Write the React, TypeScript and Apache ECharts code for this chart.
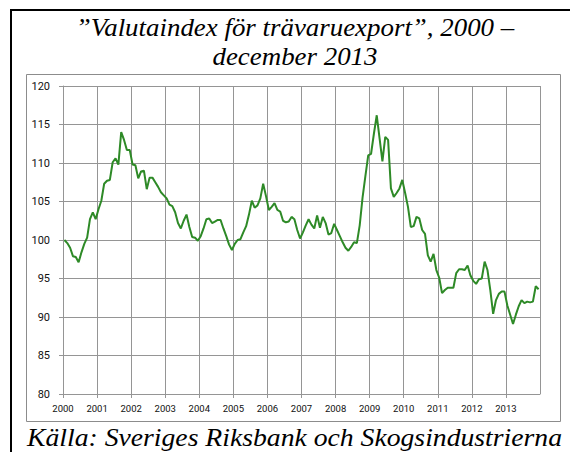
import React, { useEffect, useRef } from "react";
import * as echarts from "echarts";

const years = [2000, 2001, 2002, 2003, 2004, 2005, 2006, 2007, 2008, 2009, 2010, 2011, 2012, 2013];
const v2000 = [100.0, 99.6, 99.0, 97.9, 97.8, 97.1, 98.4, 99.5, 100.3, 102.7, 103.6, 102.7];
const v2001 = [104.0, 105.1, 107.3, 107.7, 107.8, 110.1, 110.6, 109.8, 114.0, 113.0, 111.7, 111.7];
const v2002 = [109.8, 109.7, 108.0, 108.9, 109.0, 106.6, 108.1, 108.1, 107.5, 106.9, 106.2, 105.8];
const v2003 = [105.4, 104.6, 104.4, 103.6, 102.2, 101.5, 102.5, 103.3, 101.7, 100.4, 100.3, 99.9];
const v2004 = [100.5, 101.5, 102.7, 102.8, 102.2, 102.4, 102.6, 102.6, 101.5, 100.5, 99.4, 98.7];
const v2005 = [99.5, 100.0, 100.1, 101.0, 101.8, 103.3, 105.1, 104.2, 104.5, 105.4, 107.3, 105.7];
const v2006 = [103.9, 104.3, 104.8, 103.9, 103.7, 102.5, 102.3, 102.4, 103.0, 102.7, 101.3, 100.2];
const v2007 = [101.0, 101.9, 102.7, 102.0, 101.5, 103.2, 101.6, 103.0, 102.2, 100.7, 100.9, 102.1];
const v2008 = [101.3, 100.5, 99.7, 99.0, 98.6, 99.1, 99.7, 99.6, 101.9, 105.5, 108.3, 111.0];
const v2009 = [111.2, 113.8, 116.2, 113.2, 110.2, 113.4, 113.0, 106.7, 105.6, 106.1, 106.7, 107.8];
const v2010 = [106.1, 104.3, 101.7, 101.8, 103.0, 102.8, 101.3, 100.8, 98.0, 97.2, 98.2, 96.1];
const v2011 = [95.1, 93.1, 93.5, 93.8, 93.8, 93.8, 95.7, 96.2, 96.2, 96.1, 96.7, 95.4];
const v2012 = [94.7, 94.3, 94.9, 95.0, 97.2, 96.1, 93.5, 90.4, 92.2, 93.0, 93.3, 93.3];
const v2013 = [91.5, 90.3, 89.1, 90.3, 91.4, 92.2, 91.8, 92.0, 91.9, 92.0, 94.0, 93.6];
const yearly = [v2000, v2001, v2002, v2003, v2004, v2005, v2006, v2007, v2008, v2009, v2010, v2011, v2012, v2013];

const titleLine1 = "”Valutaindex för trävaruexport”, 2000 –";
const titleLine2 = "december 2013";
const sourceText = "Källa: Sveriges Riksbank och Skogsindustrierna";

export default function App() {
  const ref = useRef<HTMLDivElement>(null);
  useEffect(() => {
    document.body.style.margin = "0";
    const chart = echarts.init(ref.current!, null, { renderer: "svg" });
    const data: number[][] = [];
    yearly.forEach((arr, yi) =>
      arr.forEach((v, m) => data.push([years[yi] + (m + 0.5) / 12, v]))
    );
    const serifText = {
      fontFamily: "'Times New Roman', 'Liberation Serif', 'DejaVu Serif', serif",
      fontStyle: "italic",
      fontWeight: "normal",
      fill: "#000",
    };
    const gridColor = "#959595";
    chart.setOption({
      animation: false,
      backgroundColor: "#fff",
      grid: { left: 63, top: 86, width: 477, height: 308, containLabel: false },
      xAxis: {
        type: "value",
        min: 2000,
        max: 2014,
        interval: 1,
        axisLine: { show: true, lineStyle: { color: gridColor, width: 1 } },
        axisTick: { show: true, length: 4, lineStyle: { color: gridColor } },
        splitLine: { show: true, lineStyle: { color: gridColor, width: 1 } },
        axisLabel: {
          margin: 9,
          color: "#111",
          fontFamily: "Roboto",
          fontSize: 9.5,
          showMaxLabel: false,
          formatter: (v: number) => (v >= 2014 ? "" : String(v)),
        },
      },
      yAxis: {
        type: "value",
        min: 80,
        max: 120,
        interval: 5,
        axisLine: { show: true, lineStyle: { color: gridColor, width: 1 } },
        axisTick: { show: true, length: 4, lineStyle: { color: gridColor } },
        splitLine: { show: true, lineStyle: { color: gridColor, width: 1 } },
        axisLabel: {
          margin: 13,
          color: "#111",
          fontFamily: "Roboto",
          fontSize: 11,
        },
      },
      series: [
        {
          type: "line",
          data,
          showSymbol: false,
          symbol: "none",
          lineStyle: { color: "#2e8a27", width: 2 },
        },
      ],
      graphic: [
        {
          type: "rect",
          shape: { x: 11, y: 10, width: 640, height: 520 },
          style: { fill: "none", stroke: "#000", lineWidth: 2 },
        },
        {
          type: "rect",
          shape: { x: 26.5, y: 74.5, width: 534, height: 347 },
          style: { fill: "none", stroke: "#8c8c8c", lineWidth: 1 },
        },
        {
          type: "text",
          x: 295,
          y: 27,
          scaleX: 1.035,
          style: {
            ...serifText,
            text: titleLine1,
            fontSize: 26,
            textAlign: "center",
            textVerticalAlign: "middle",
          },
        },
        {
          type: "text",
          x: 295,
          y: 56,
          scaleX: 1.035,
          style: {
            ...serifText,
            text: titleLine2,
            fontSize: 26,
            textAlign: "center",
            textVerticalAlign: "middle",
          },
        },
        {
          type: "text",
          x: 27,
          y: 437,
          scaleX: 1.065,
          style: {
            ...serifText,
            text: sourceText,
            fontSize: 26,
            textAlign: "left",
            textVerticalAlign: "middle",
          },
        },
      ],
    });
    return () => chart.dispose();
  }, []);
  return <div ref={ref} style={{ width: 570, height: 452 }} />;
}
